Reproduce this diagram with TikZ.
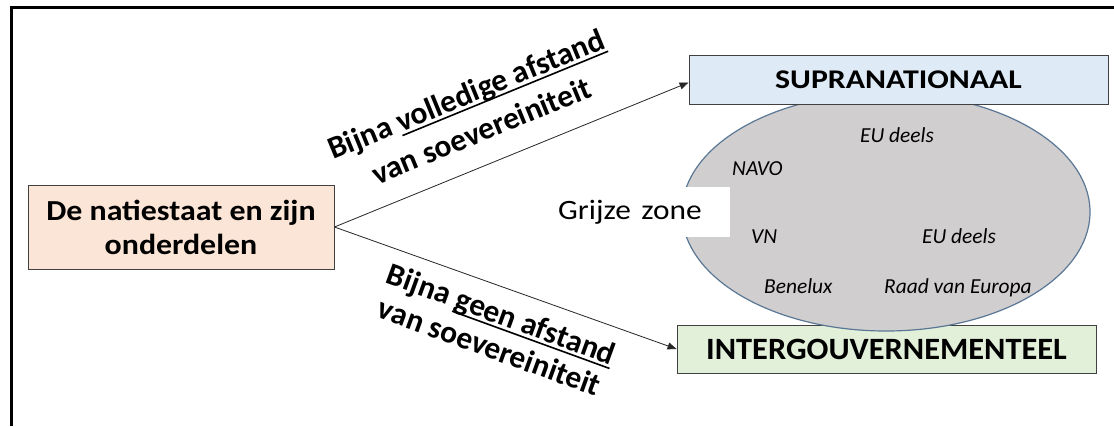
\documentclass[tikz,border=0pt]{standalone}
\usepackage{fontspec}
\usepackage{graphicx}
\setmainfont{Carlito}
\usetikzlibrary{arrows.meta,shapes.geometric}
\definecolor{peach}{HTML}{FBE5D6}
\definecolor{paleblue}{HTML}{DEEBF7}
\definecolor{palegreen}{HTML}{E2F0D9}
\definecolor{zonegray}{HTML}{D0CECE}
\definecolor{ellline}{HTML}{5A7796}
\definecolor{boxline}{HTML}{404040}
\newcommand\myul[1]{\setbox0\hbox{#1}\rlap{\rule[-4.5pt]{\wd0}{1.6pt}}\box0}
\newcommand\hs[2]{\scalebox{#1}[1]{#2}}
\tikzset{
  box/.style={draw=boxline, line width=0.9pt, inner sep=0pt, align=center, font=\bfseries},
  lab/.style={font=\fontsize{21.4}{25}\selectfont\itshape, anchor=base west, inner sep=0pt},
  rlab/.style={font=\fontsize{31.5}{40}\selectfont\bfseries, align=center, inner sep=0pt},
  conn/.style={line width=0.8pt, draw=black!85, -{Triangle[length=9pt,width=7pt]}},
}
\begin{document}
\begin{tikzpicture}[x=1pt,y=-1pt]
\useasboundingbox (0,0) rectangle (1114,426);
\fill[white] (0,0) rectangle (1114,426);
\draw[line width=3pt] (11.5,426) -- (11.5,7.5) -- (1114,7.5);

\node[box, fill=palegreen, minimum width=419pt, minimum height=48pt] (inter) at (886.5,349) {\fontsize{31}{36}\selectfont\hs{1.045}{INTERGOUVERNEMENTEEL}};
\node[ellipse, draw=ellline, line width=1.2pt, fill=zonegray, minimum width=408pt, minimum height=238pt, inner sep=0pt] (zone) at (886,212) {};
\node[box, fill=paleblue, minimum width=419pt, minimum height=49pt] (supra) at (898.5,79.5) {\fontsize{27}{30}\selectfont\hs{1.18}{SUPRANATIONAAL}};
\node[box, fill=peach, minimum width=306pt, minimum height=84pt, font=\fontsize{29}{34}\selectfont\bfseries] (state) at (181,227) {\hs{1.1}{De natiestaat en zijn}\\\hs{1.1}{onderdelen}};

\node[fill=white, inner xsep=0pt, minimum height=50pt, text width=185pt, align=left, anchor=west, font=\fontsize{28}{34}\selectfont] (gz) at (545,212) {\hspace*{13pt}\hs{1.12}{Grijze zone}};

\node[lab] (eu1) at (860,142) {EU deels};
\node[lab] (navo) at (732,175) {NAVO};
\node[lab] (vn) at (751,243) {VN};
\node[lab] (eu2) at (922,243) {EU deels};
\node[lab] (benelux) at (764,293) {Benelux};
\node[lab] (raad) at (884,293) {Raad van Europa};

\draw[conn] (state.east) -- ([yshift=-3pt]supra.west);
\draw[conn] (state.east) -- (inter.west);

\node[rlab, rotate=22.3] (up) at (473.6,112.2) {Bijna \myul{volledige afstand}\\van soevereiniteit};
\node[rlab, rotate=-20, font=\fontsize{31.5}{35}\selectfont\bfseries] (down) at (495.5,330) {Bijna \myul{geen afstand}\\van soevereiniteit};
\end{tikzpicture}
\end{document}
